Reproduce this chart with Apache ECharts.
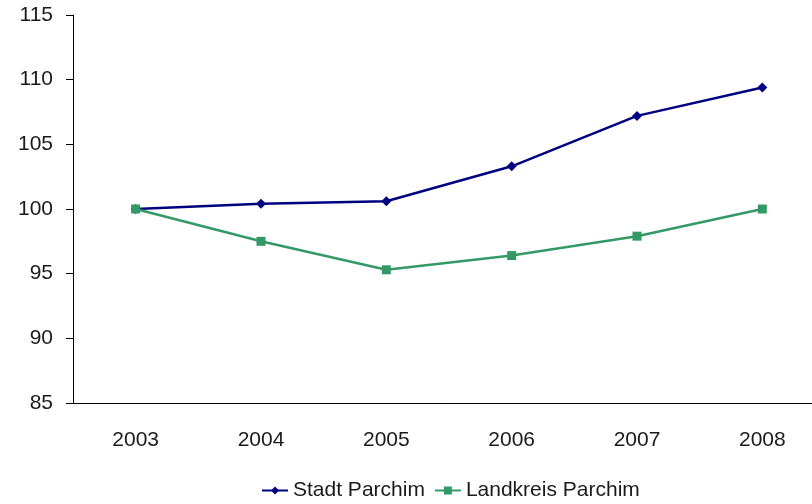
<!DOCTYPE html>
<html><head><meta charset="utf-8">
<script src="https://cdn.jsdelivr.net/npm/echarts@6/dist/echarts.min.js"></script>
<style>html,body{margin:0;padding:0;background:#fff}#c{width:812px;height:504px}</style>
</head><body><div id="c"></div>
<script>
const years = ['2003','2004','2005','2006','2007','2008'];
const stadt = [100, 100.4, 100.6, 103.3, 107.2, 109.4];
const landkreis = [100, 97.5, 95.3, 96.4, 97.9, 100];
const seriesNames = ['Stadt Parchim', 'Landkreis Parchim'];
const FONT = 'Liberation Sans';
const chart = echarts.init(document.getElementById('c'), null, {renderer:'canvas'});
chart.setOption({
  animation:false,
  backgroundColor:'#fff',
  grid:{left:73, top:15, height:388, width:752, containLabel:false, outerBoundsMode:'none'},
  legend:{
    top:480, left:261, padding:0, itemWidth:26, itemHeight:10, itemGap:9,
    textStyle:{fontFamily:FONT, fontSize:21, color:'#1a1a1a'},
    data:seriesNames
  },
  xAxis:{
    type:'category', data:years, boundaryGap:true,
    axisLine:{lineStyle:{color:'#000', width:1}},
    axisTick:{show:false},
    axisLabel:{fontFamily:FONT, fontSize:21, color:'#1a1a1a', margin:27}
  },
  yAxis:{
    type:'value', min:85, max:115, interval:5,
    axisLine:{show:true, lineStyle:{color:'#000', width:1}},
    axisTick:{show:true, length:7, lineStyle:{color:'#000'}},
    axisLabel:{fontFamily:FONT, fontSize:21, color:'#1a1a1a', margin:20},
    splitLine:{show:false}
  },
  series:[
    {name:seriesNames[0], type:'line', data:stadt, symbol:'diamond', symbolSize:10,
     itemStyle:{color:'#000080'}, lineStyle:{color:'#000080', width:2.5}},
    {name:seriesNames[1], type:'line', data:landkreis, symbol:'rect', symbolSize:9,
     itemStyle:{color:'#339966'}, lineStyle:{color:'#339966', width:2.5}}
  ]
});
</script></body></html>
